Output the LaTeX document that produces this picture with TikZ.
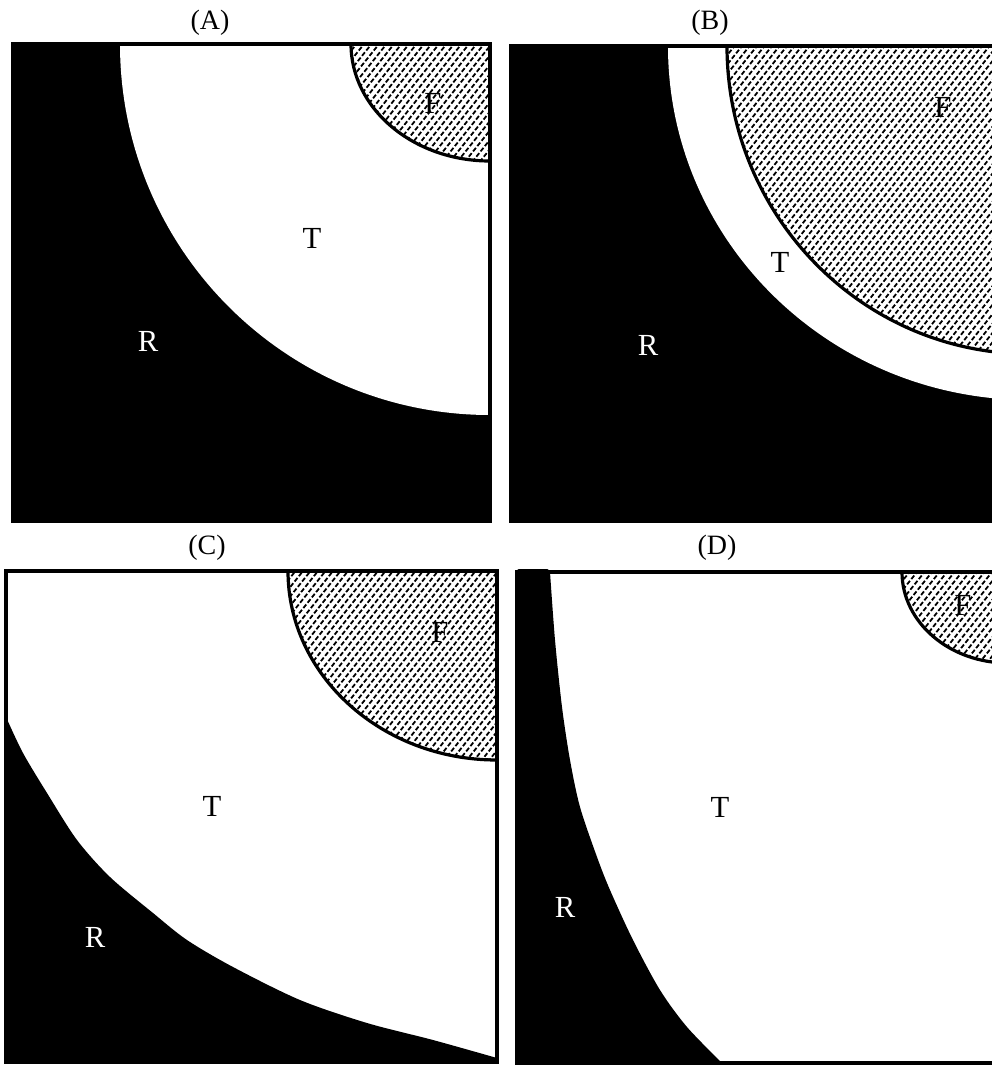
\documentclass[tikz,border=0pt]{standalone}
\usepackage{fontspec}
\setmainfont{Liberation Serif}
\tikzset{
  frame/.style={draw=black, line width=2.5pt},
  farc/.style={draw=black, line width=2.4pt},
  hatchline/.style={line width=1.35pt, dash pattern=on 3.4pt off 1.7pt},
  lbl/.style={font=\fontsize{23}{26}\selectfont, inner sep=0pt},
  lblw/.style={lbl, text=white},
  ttl/.style={font=\fontsize{21}{25}\selectfont, inner sep=0pt},
}
\newcommand\hatchbox[4]{%
  \pgfmathsetmacro\hatchH{#4-#2}%
  \pgfmathsetmacro\hatchS{#1-0.8*\hatchH}%
  \pgfmathsetmacro\hatchN{\hatchS+7.5}%
  \foreach \xx in {\hatchS,\hatchN,...,#3}{\draw[hatchline] (\xx,#4) -- ++(0.8*\hatchH,-\hatchH);}%
}
\begin{document}
\begin{tikzpicture}[x=0.75pt,y=-0.75pt]
\useasboundingbox (0,0) rectangle (992,1065);
\fill[white] (0,0) rectangle (992,1065);
\clip (0,0) rectangle (992,1065);

% ---------- Panel A ----------
\begin{scope}
  \clip (13,44) rectangle (490,521);
  \fill[black] (13,44) rectangle (490,521);
  \fill[white] (490,44) ellipse [x radius=370, y radius=371];
  \begin{scope}
    \clip (490,44) ellipse [x radius=139, y radius=117];
    \hatchbox{349}{44}{492}{162}
  \end{scope}
  \draw[farc] (490,44) ellipse [x radius=139, y radius=117];
\end{scope}
\draw[frame] (13,44) rectangle (490,521);
\node[ttl] (tA) at (210,23) {(A)};
\node[lbl] (TA) at (312,238) {T};
\node[lblw] (RA) at (148,341) {R};
\node[lbl] (FA) at (433,103) {F};

% ---------- Panel B ----------
\begin{scope}
  \clip (511,46) rectangle (1030,521);
  \fill[black] (511,46) rectangle (1030,521);
  \fill[white] (1030,46) ellipse [x radius=362, y radius=354];
  \begin{scope}
    \clip (1030,46) ellipse [x radius=303, y radius=308];
    \hatchbox{727}{46}{1000}{356}
  \end{scope}
  \draw[farc] (1030,46) ellipse [x radius=303, y radius=308];
\end{scope}
\draw[frame] (511,46) rectangle (1030,521);
\node[ttl] (tB) at (710,23) {(B)};
\node[lbl] (TB) at (780,262) {T};
\node[lblw] (RB) at (648,345) {R};
\node[lbl] (FB) at (943,107) {F};

% ---------- Panel C ----------
\begin{scope}
  \clip (6,571) rectangle (497,1062);
  \fill[black] plot[smooth] coordinates {(6,717) (23,753) (47,793) (77,840) (110,877) (153,913) (187,940) (233,967) (300,1000) (367,1023) (433,1040) (497,1058)} -- (500,1070) -- (0,1070) -- (0,717) -- cycle;
  \begin{scope}
    \clip (497,571) ellipse [x radius=209, y radius=189];
    \hatchbox{288}{571}{499}{762}
  \end{scope}
  \draw[farc] (497,571) ellipse [x radius=209, y radius=189];
\end{scope}
\draw[frame] (6,571) rectangle (497,1062);
\node[ttl] (tC) at (207,548) {(C)};
\node[lbl] (TC) at (212,806) {T};
\node[lblw] (RC) at (95,937) {R};
\node[lbl] (FC) at (440,632) {F};

% ---------- Panel D ----------
\begin{scope}
  \clip (517,572) rectangle (1008,1063);
  \fill[black] plot[smooth] coordinates {(550,572) (555,640) (562,707) (570,760) (580,807) (597,857) (610,890) (633,940) (660,990) (687,1027) (722,1063)} -- (722,1070) -- (510,1070) -- (510,560) -- (550,560) -- cycle;
  \begin{scope}
    \clip (1008,572) ellipse [x radius=106, y radius=91];
    \hatchbox{902}{572}{1000}{664}
  \end{scope}
  \draw[farc] (1008,572) ellipse [x radius=106, y radius=91];
\end{scope}
\draw[frame] (517,572) rectangle (1008,1063);
\fill[black, rounded corners=1.5pt] (517,569) rectangle (549,575);
\node[ttl] (tD) at (717,548) {(D)};
\node[lbl] (TD) at (720,807) {T};
\node[lblw] (RD) at (565,907) {R};
\node[lbl] (FD) at (963,605) {F};
\end{tikzpicture}
\end{document}
